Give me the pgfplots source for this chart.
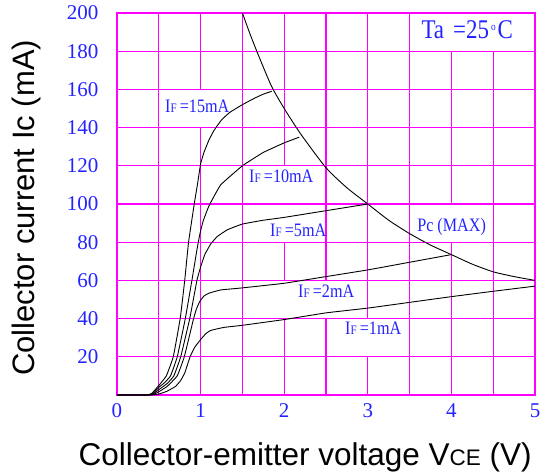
\documentclass[border=0pt]{standalone}
\usepackage{pgfplots}
\pgfplotsset{compat=1.18}
\usepackage{fontspec}
\setmainfont{Liberation Serif}
\newfontfamily\arial{Liberation Sans}
\newfontfamily\cond[FakeStretch=0.85]{Liberation Serif}
\definecolor{gridc}{RGB}{255,0,255}
\definecolor{txtb}{RGB}{35,35,255}
\newcommand{\IF}[1]{I{\fontsize{13}{13}\selectfont F}\,=#1mA}
\begin{document}
\begin{tikzpicture}
\begin{axis}[
 scale only axis, width=418pt, height=382pt,
 xmin=0, xmax=5, ymin=0, ymax=200,
 xtick={0,1,2,3,4,5}, ytick={20,40,60,80,100,120,140,160,180,200},
 major tick length=0pt,
 axis line style={gridc, line width=1.1pt},
 ymajorgrids, grid style={gridc, line width=1.1pt},
 /pgf/number format/assume math mode=true,
 ticklabel style={font=\fontsize{21}{21}\selectfont, text=txtb},
 xticklabel style={yshift=-5pt},
 yticklabel style={xshift=-15pt},
 xlabel={\arial\fontsize{31.5}{31.5}\selectfont Collector-emitter voltage V{\fontsize{22.5}{22.5}\selectfont CE} (V)},
 ylabel={\arial\fontsize{31}{31}\selectfont Collector current Ic (mA)},
 every axis x label/.style={at={(axis description cs:0.45,-0.162)}, anchor=center},
 every axis y label/.style={at={(axis description cs:-0.216,0.49)}, anchor=center, rotate=90},
 clip=true,
]
\coordinate (SW) at (rel axis cs:0,0);
% vertical grid lines with gaps behind labels
\addplot[gridc, line width=1.1pt, unbounded coords=jump, forget plot] coordinates {
(0.5,0)(0.5,200) (nan,nan)
(1,0)(1,140) (nan,nan) (1,160)(1,200) (nan,nan)
(1.5,0)(1.5,200) (nan,nan)
(2,0)(2,40) (nan,nan) (2,60)(2,80) (nan,nan) (2,120)(2,200) (nan,nan)
(2.5,0)(2.5,40) (nan,nan) (2.5,60)(2.5,200) (nan,nan)
(3,0)(3,20) (nan,nan) (3,40)(3,200) (nan,nan)
(3.5,0)(3.5,200) (nan,nan)
(4,0)(4,80) (nan,nan) (4,100)(4,180) (nan,nan)
(4.5,0)(4.5,180)
};
% IF = 15 mA
\addplot[black, line width=0.9pt, smooth, tension=0.2] coordinates {
(0,0)(0.36,0)(0.42,1)(0.5,5)(0.59,10)(0.673,20)(0.756,40)(0.81,60)(0.856,80)(0.924,100)(0.965,111)(1.0,121)
(1.04,127)(1.1,133.5)(1.16,138.5)(1.25,144)(1.35,148)(1.5,152)(1.65,155.5)(1.75,157.5)(1.85,159)};
% IF = 10 mA
\addplot[black, line width=0.9pt, smooth, tension=0.2] coordinates {
(0,0)(0.36,0)(0.43,0.8)(0.5,4)(0.57,6.5)(0.64,10)(0.721,20)(0.817,40)(0.896,60)(0.956,76)(0.99,84)(1.03,91)(1.1,99)
(1.24,110)(1.5,120)(1.75,127)(2.0,132)(2.18,135)};
% IF = 5 mA
\addplot[black, line width=0.9pt, smooth, tension=0.2] coordinates {
(0,0)(0.37,0)(0.44,0.8)(0.5,2.8)(0.6,6)(0.68,10)(0.762,20)(0.87,40)(0.956,60)(1.0,67)(1.05,73.5)(1.12,79)(1.2,83)
(1.32,86.5)(1.5,89.5)(1.75,91.5)(2.0,93)(2.5,96.5)(3.0,100)};
% IF = 2 mA
\addplot[black, line width=0.9pt, smooth, tension=0.2] coordinates {
(0,0)(0.38,0)(0.45,0.5)(0.5,1.7)(0.6,4.5)(0.72,10)(0.805,20)(0.916,40)(0.95,45)(0.99,49)(1.04,51.8)(1.1,53.3)(1.24,55)
(1.48,56)(2.0,58.5)(2.5,62)(3.0,65.5)(3.5,69.5)(4.0,73.5)};
% IF = 1 mA
\addplot[black, line width=0.9pt, smooth, tension=0.2] coordinates {
(0,0)(0.4,0)(0.5,0.5)(0.6,2)(0.7,4.5)(0.76,7.5)(0.81,11.5)(0.874,20)(0.93,25)(1.0,29)(1.06,32)(1.12,33.8)(1.28,35.4)
(1.5,36.5)(2.0,39.5)(2.5,43)(3.0,45.5)(3.5,48.5)(4.0,51.5)(4.5,54.3)(5.0,57)};
% Pc (MAX)
\addplot[black, line width=0.9pt, smooth, tension=0.4] coordinates {
(1.5,200)(1.6,188)(1.7,177)(1.85,161.5)(2.0,150)(2.2,136.5)(2.5,119)(2.75,108.5)(3.0,100)(3.25,91.5)
(3.5,84.5)(3.75,78.5)(4.0,73.5)(4.25,68.5)(4.5,64.5)(4.75,62)(5.0,60)};
\begin{scope}[every node/.style={text=txtb, font=\cond\fontsize{19}{19}\selectfont, anchor=west, inner sep=0pt}]
\node at (axis cs:0.574,151) {\IF{15}};
\node at (axis cs:1.579,114.4) {\IF{10}};
\node at (axis cs:1.83,86.4) {\IF{5}};
\node at (axis cs:2.165,54.5) {\IF{2}};
\node at (axis cs:2.727,34.8) {\IF{1}};
\node at (axis cs:3.59,88.2) {Pc (MAX)};
\node[font=\cond\fontsize{27}{27}\selectfont] at (axis cs:3.64,191) {Ta\hspace{9pt}=25\hspace{2pt}\raisebox{8pt}{\fontsize{11}{11}\selectfont o}\hspace{2pt}C};
\end{scope}
\end{axis}
\pgfresetboundingbox
\path[use as bounding box] (SW) ++(-117pt,-80pt) rectangle ++(552pt,475pt);
\end{tikzpicture}
\end{document}
